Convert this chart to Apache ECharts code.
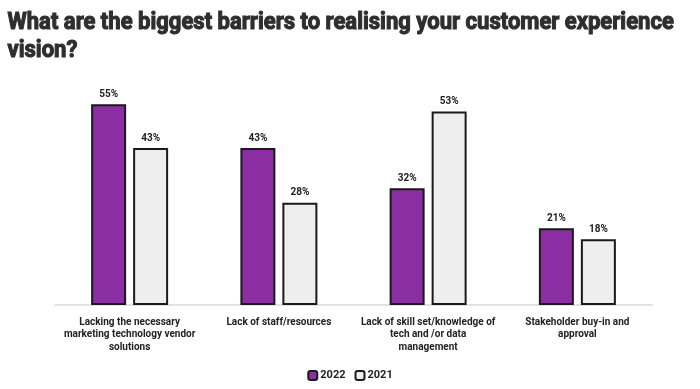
<!DOCTYPE html>
<html><head><meta charset="utf-8">
<script src="https://cdn.jsdelivr.net/npm/echarts@6/dist/echarts.min.js"></script>
<style>html,body{margin:0;padding:0;background:#fff}#c{width:700px;height:389px}</style>
</head><body><div id="c"></div>
<script>
const titleText = "What are the biggest barriers to realising your customer experience\nvision?";
const categories = [
  "Lacking the necessary\nmarketing technology vendor\nsolutions",
  "Lack of staff/resources",
  "Lack of skill set/knowledge of\ntech and /or data\nmanagement",
  "Stakeholder buy-in and\napproval"
];
const seriesNames = ["2022", "2021"];
const values2022 = [55, 43, 32, 21];
const values2021 = [43, 28, 53, 18];

const chart = echarts.init(document.getElementById('c'), null, {renderer: 'canvas'});
const FONT = 'Roboto';
const labelStyle = {show: true, position: 'top', formatter: '{c}%', fontFamily: FONT, fontWeight: 'bold', fontSize: 10, color: '#222', distance: 5};
chart.setOption({
  animation: false,
  graphic: [{
    type: 'text', left: 7, top: 9, scaleX: 0.918, originX: 0,
    style: {text: titleText, fontFamily: FONT, fontWeight: 'bold', fontSize: 24, lineHeight: 28, fill: '#2e2e2e', stroke: '#2e2e2e', lineWidth: 1.1}
  }],
  legend: {data: seriesNames, bottom: 3, left: 'center', itemWidth: 9, itemHeight: 9, itemGap: 9,
    textStyle: {fontFamily: FONT, fontWeight: 'bold', fontSize: 11, color: '#222', padding: [0, 0, 0, -2]}},
  grid: {left: 55, right: 48, top: 86, bottom: 84},
  xAxis: {type: 'category', data: categories,
    axisLine: {lineStyle: {color: '#e2e2e2', width: 2}}, axisTick: {show: false},
    axisLabel: {interval: 0, margin: 11, fontFamily: FONT, fontWeight: 'bold', fontSize: 10, color: '#222', lineHeight: 12.5}},
  yAxis: {type: 'value', min: 0, max: 60, show: false, splitLine: {show: false}},
  series: [
    {name: '2022', type: 'bar', data: values2022, barWidth: 35, barGap: '20%',
      itemStyle: {color: '#8b2ea3', borderColor: '#1a1a1a', borderWidth: 2}, label: labelStyle},
    {name: '2021', type: 'bar', data: values2021, barWidth: 35,
      itemStyle: {color: '#eeeeee', borderColor: '#1a1a1a', borderWidth: 2}, label: labelStyle}
  ]
});
</script></body></html>
